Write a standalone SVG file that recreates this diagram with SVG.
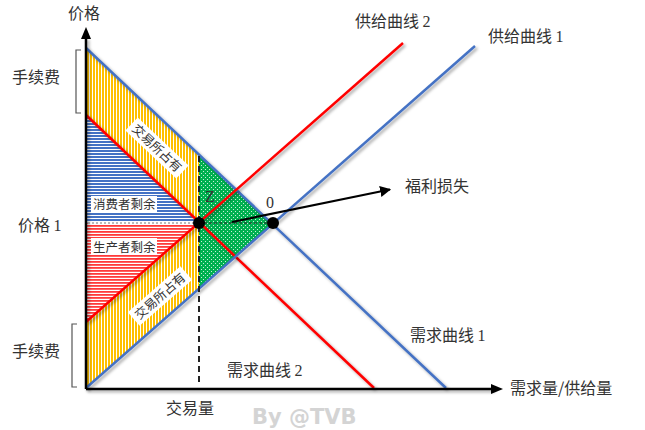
<svg xmlns="http://www.w3.org/2000/svg" width="645" height="430" viewBox="0 0 645 430">
<defs>
<style>
.t{font-family:"Noto Sans CJK SC","Liberation Sans",sans-serif;fill:#333;font-size:16px}
.d{font-family:"Liberation Serif",serif}
.s{font-size:12.5px}
.ln{fill:none;stroke-width:2.5;filter:url(#sh)}
.blue{stroke:#4472c4}
.red{stroke:#ff0000}
.br{fill:none;stroke:#555;stroke-width:1.2}
</style>
<filter id="sh" filterUnits="userSpaceOnUse" x="0" y="0" width="645" height="430">
<feDropShadow dx="2" dy="2" stdDeviation="1.5" flood-color="#000" flood-opacity="0.35"/>
</filter>
<pattern id="py" width="3" height="10" patternUnits="userSpaceOnUse">
<rect width="3" height="10" fill="#fff"/><rect width="2" height="10" fill="#ffc000"/>
</pattern>
<pattern id="pb" width="10" height="3" patternUnits="userSpaceOnUse">
<rect width="10" height="3" fill="#fff"/><rect width="10" height="2" fill="#4472c4"/>
</pattern>
<pattern id="pr" width="10" height="3" patternUnits="userSpaceOnUse">
<rect width="10" height="3" fill="#fff"/><rect width="10" height="1.8" fill="#ff3b3b"/>
</pattern>
<pattern id="pg" width="4" height="4" patternUnits="userSpaceOnUse">
<rect width="4" height="4" fill="#00b050"/><rect x="1" y="1" width="1" height="1" fill="#c8f0d8"/><rect x="3" y="3" width="1" height="1" fill="#c8f0d8"/>
</pattern>
<marker id="ah" viewBox="0 0 10 10" refX="9" refY="5" markerWidth="5" markerHeight="5" orient="auto">
<path d="M0,0 L10,5 L0,10 z" fill="#000"/>
</marker>
</defs>
<rect width="645" height="430" fill="#fff"/>

<g id="regions">
<polygon id="fee-upper" points="86,48 199,155 199,222.5 86,115" fill="url(#py)"/>
<polygon id="fee-lower" points="86,322 199,222.5 199,289 86,388" fill="url(#py)"/>
<polygon id="consumer-surplus" points="86,115 199,222.5 86,222.5" fill="url(#pb)"/>
<polygon id="producer-surplus" points="86,223 199,223 86,322" fill="url(#pr)"/>
<polygon id="deadweight" points="199,155 272.5,223.5 199,289" fill="url(#pg)"/>
<line x1="88" y1="223" x2="197" y2="223" stroke="#fff" stroke-width="3"/>
<line x1="88" y1="223" x2="197" y2="223" stroke="#777" stroke-width="1" stroke-dasharray="2,2"/>
</g>

<g id="connectors">
<line class="ln blue" x1="86" y1="48" x2="446" y2="388"/>
<line class="ln red" x1="86" y1="115" x2="374" y2="388"/>
<line class="ln blue" x1="86" y1="388" x2="475" y2="46"/>
<line class="ln red" x1="86" y1="322" x2="403" y2="43"/>
<line x1="199" y1="156" x2="199" y2="386" stroke="#222" stroke-width="2" stroke-dasharray="6,4"/>
<line x1="199" y1="223" x2="273" y2="223" stroke="#222" stroke-width="1" stroke-dasharray="3,2"/>
<line x1="86" y1="389" x2="493" y2="389" stroke="#000" stroke-width="2.5" filter="url(#sh)"/>
<polygon points="503,389 491,384 491,394" fill="#000"/>
<line x1="86" y1="389" x2="86" y2="38" stroke="#000" stroke-width="2.5" filter="url(#sh)"/>
<polygon points="86,27 81,39 91,39" fill="#000"/>
<line x1="232" y1="222" x2="390" y2="189.5" stroke="#000" stroke-width="2.2" marker-end="url(#ah)"/>
<path class="br" d="M81,50 H76 V113 H81"/>
<path class="br" d="M77,324 H72 V387 H77"/>
</g>

<g id="point-z"><circle cx="199" cy="223" r="6" fill="#000"/><text class="t d" x="205" y="202" font-size="15">Z</text></g>
<g id="point-o"><circle cx="273" cy="223" r="6" fill="#000"/><text class="t d" x="266" y="208" font-size="15">0</text></g>

<g id="label-fee-upper-band">
<g transform="translate(157,148) rotate(43.4)">
<rect x="-35" y="-9" width="70" height="18" fill="#fff"/>
<text class="t s" x="0" y="4.5" text-anchor="middle">交易所占有</text>
</g>
</g>
<g id="label-fee-lower-band">
<g transform="translate(160,296) rotate(-41.3)">
<rect x="-35" y="-9" width="70" height="18" fill="#fff"/>
<text class="t s" x="0" y="4.5" text-anchor="middle">交易所占有</text>
</g>
</g>
<g id="label-consumer"><rect x="91" y="196" width="66" height="17" fill="#fff"/><text class="t s" x="93" y="209">消费者剩余</text></g>
<g id="label-producer"><rect x="91" y="238" width="66" height="17" fill="#fff"/><text class="t s" x="93" y="252">生产者剩余</text></g>

<g id="axis-labels">
<text class="t" x="68" y="19">价格</text>
<text class="t" x="12" y="83">手续费</text>
<text class="t" x="12" y="357">手续费</text>
<text class="t" x="18" y="231">价格 <tspan class="d">1</tspan></text>
<text class="t" x="166" y="414">交易量</text>
<text class="t" x="510" y="394">需求量/供给量</text>
</g>
<g id="curve-labels">
<text class="t" x="410" y="341">需求曲线 <tspan class="d">1</tspan></text>
<text class="t" x="227" y="376">需求曲线 <tspan class="d">2</tspan></text>
<text class="t" x="355" y="27">供给曲线 <tspan class="d">2</tspan></text>
<text class="t" x="488" y="42">供给曲线 <tspan class="d">1</tspan></text>
<text class="t" x="405" y="192">福利损失</text>
</g>
<text x="252" y="424" font-family="DejaVu Sans" font-weight="bold" font-size="21" fill="#d4d4d4">By @TVB</text>
</svg>
